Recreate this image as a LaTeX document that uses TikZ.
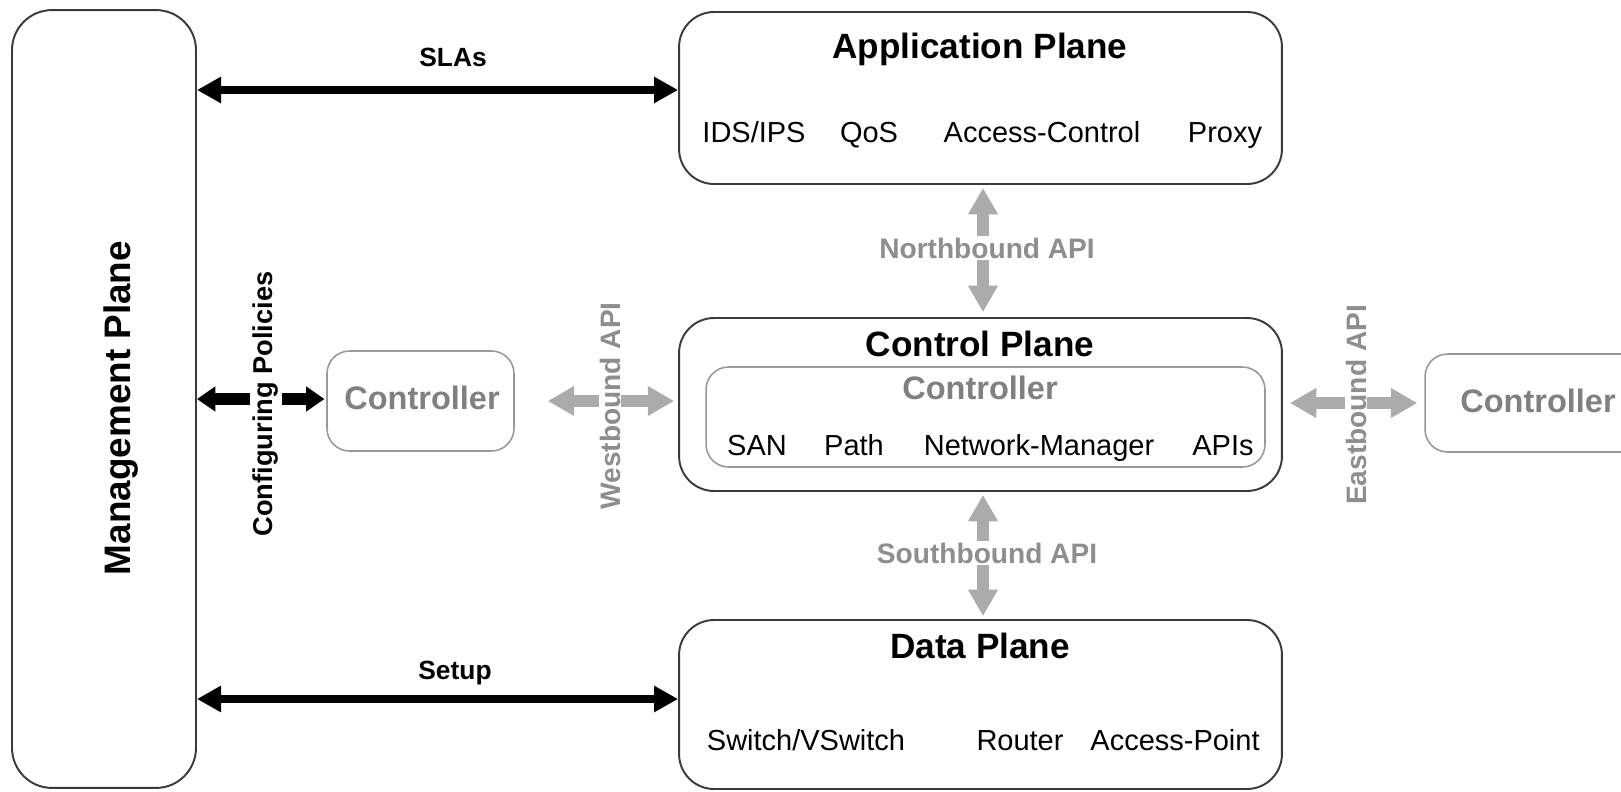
\documentclass[tikz,border=0pt]{standalone}
\usepackage{fontspec}
\setmainfont{Liberation Sans}
\usetikzlibrary{arrows.meta,calc}
\definecolor{boxline}{HTML}{3A3A3A}
\definecolor{lightline}{HTML}{999999}
\definecolor{arrowgray}{HTML}{ABABAB}
\definecolor{textgray}{HTML}{8E8E8E}
\definecolor{ctrlgray}{HTML}{808080}
\begin{document}
\begin{tikzpicture}[x=0.02cm,y=-0.02cm,
  plane/.style={draw=boxline, line width=1.1pt, rounded corners=0.7cm, inner sep=0pt},
  ctrlbox/.style={draw=lightline, line width=0.9pt, rounded corners=0.45cm, inner sep=0pt},
  titletext/.style={font=\bfseries\fontsize{20}{24}\selectfont, inner sep=0pt, text height=14.3pt, text depth=0pt},
  itemtext/.style={font=\fontsize{16.5}{20}\selectfont, inner sep=0pt, text height=11.8pt, text depth=0pt},
  ctrltext/.style={font=\bfseries\fontsize{18.5}{22}\selectfont, text=ctrlgray, inner sep=0pt, text height=13.2pt, text depth=0pt},
  blacklabel/.style={font=\bfseries\fontsize{15}{18}\selectfont, inner sep=0pt, text height=10.7pt, text depth=0pt},
  apilabel/.style={font=\bfseries\fontsize{16}{19}\selectfont, text=textgray, fill=white, inner sep=1pt},
  blackarrow/.style={draw=black, line width=5.1pt,
    {Triangle[length=13.7pt,width=14.2pt]}-{Triangle[length=13.7pt,width=14.2pt]}},
  cfgarrow/.style={draw=black, line width=6.6pt,
    {Triangle[length=10.5pt,width=13.7pt]}-{Triangle[length=10.5pt,width=13.7pt]}},
  grayarrow/.style={draw=arrowgray, line width=6.6pt,
    {Triangle[length=15pt,width=16pt]}-{Triangle[length=15pt,width=16pt]}}
]
\clip (0,0) rectangle (1621,791);
\fill[white] (0,0) rectangle (1621,791);

% boxes
\node[plane, rounded corners=0.8cm, minimum width=3.68cm, minimum height=15.56cm] (mp) at (104,399) {};
\node[plane, minimum width=12.06cm, minimum height=3.44cm] (app) at (980.5,98) {};
\node[plane, minimum width=12.06cm, minimum height=3.46cm] (cp) at (980.5,404.5) {};
\node[ctrlbox, minimum width=11.18cm, minimum height=2cm] (inner) at (985.5,417) {};
\node[plane, minimum width=12.06cm, minimum height=3.38cm] (dp) at (980.5,704.5) {};
\node[ctrlbox, minimum width=3.74cm, minimum height=2cm] (lc) at (420.5,401) {};
\node[ctrlbox, minimum width=4.52cm, minimum height=1.96cm] (rc) at (1538,403) {};

% texts
\node[font=\bfseries\fontsize{21}{25}\selectfont, rotate=90, inner sep=0pt, text height=15pt, text depth=0pt] (mpt) at (117,408) {Management Plane};
\node[titletext] (appt) at (980,46) {Application Plane};
\node[itemtext] (ids) at (754,132) {IDS/IPS};
\node[itemtext] (qos) at (869,132) {QoS};
\node[itemtext] (acc) at (1042,132) {Access-Control};
\node[itemtext] (proxy) at (1225,132) {Proxy};

\node[titletext] (cpt) at (980,344) {Control Plane};
\node[ctrltext] (innert) at (980,388) {Controller};
\node[itemtext] (san) at (757,445) {SAN};
\node[itemtext] (path) at (854,445) {Path};
\node[itemtext] (nm) at (1039,445) {Network-Manager};
\node[itemtext] (apis) at (1223,445) {APIs};

\node[titletext] (dpt) at (980,646) {Data Plane};
\node[itemtext] (sw) at (806,740) {Switch/VSwitch};
\node[itemtext] (router) at (1020,740) {Router};
\node[itemtext] (ap) at (1175,740) {Access-Point};

\node[ctrltext] (lct) at (422,398) {Controller};
\node[ctrltext] (rct) at (1538,401) {Controller};

% connectors
\coordinate (slaend) at ($(app.west)+(0,-8)$);
\draw[blackarrow] (mp.east |- slaend) -- (slaend);
\node[blacklabel] (sla) at (453,57) {SLAs};

\coordinate (setupend) at ($(dp.west)+(0,-5.5)$);
\draw[blackarrow] (mp.east |- setupend) -- (setupend);
\node[blacklabel] (setup) at (455,670) {Setup};

\coordinate (cfgend) at ($(lc.west)+(0,-2)$);
\draw[cfgarrow, shorten >=1pt] (mp.east |- cfgend) -- (cfgend);
\node[font=\bfseries\fontsize{15.5}{18}\selectfont, rotate=90, fill=white, inner sep=2pt] (cfg) at (266,404) {Configuring Policies};

\draw[grayarrow, shorten <=0.66cm, shorten >=0.08cm] (lc.east) -- (lc.east -| cp.west);
\node[apilabel, rotate=90, inner sep=0.5pt] (wb) at (610,406) {Westbound API};

\draw[grayarrow, shorten <=0.14cm, shorten >=0.14cm] (rc.west -| cp.east) -- (rc.west);
\node[apilabel, rotate=90, inner sep=0.5pt] (eb) at (1356,405) {Eastbound API};

\draw[grayarrow, shorten <=0.06cm, shorten >=0.1cm] ([xshift=0.05cm]app.south) -- ([xshift=0.05cm]app.south |- cp.north);
\node[apilabel] (nb) at (987,248) {Northbound API};

\draw[grayarrow, shorten <=0.06cm, shorten >=0.06cm] ([xshift=0.05cm]cp.south) -- ([xshift=0.05cm]cp.south |- dp.north);
\node[apilabel] (sb) at (987,553) {Southbound API};
\end{tikzpicture}
\end{document}
